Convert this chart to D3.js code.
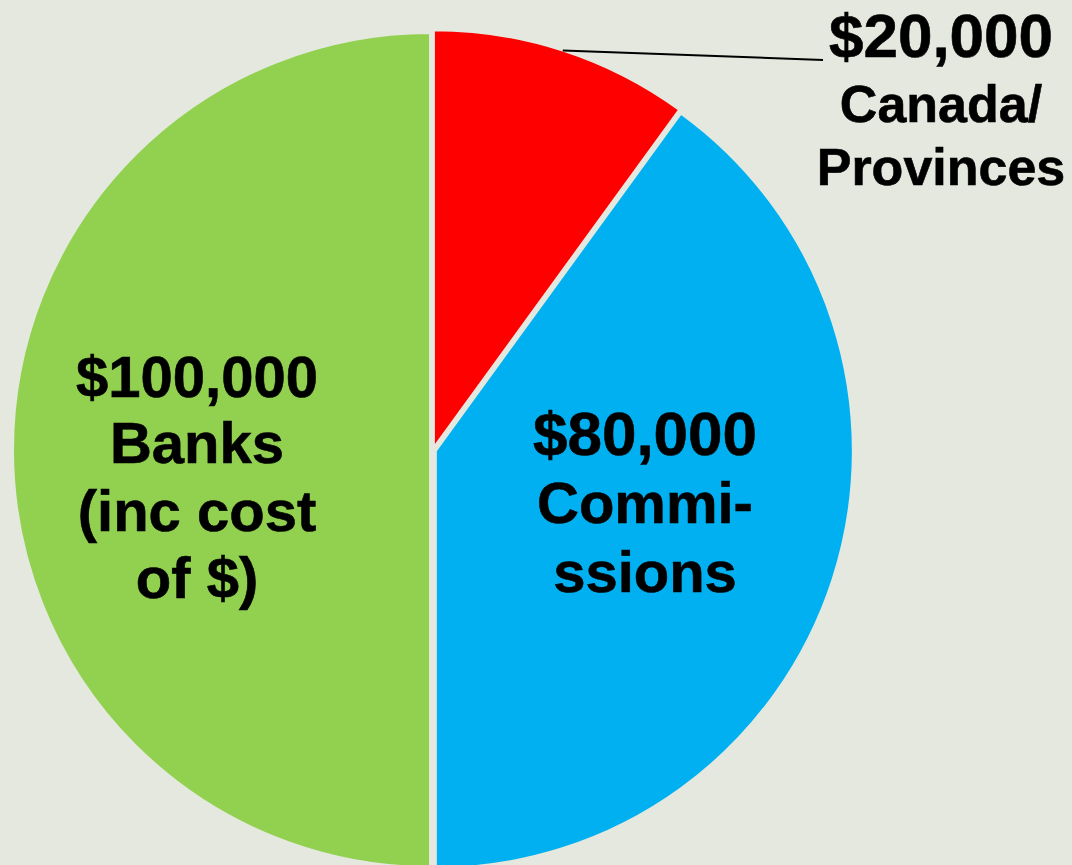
<!DOCTYPE html>
<html>
<head>
<meta charset="utf-8">
<script src="https://cdn.jsdelivr.net/npm/d3@7"></script>
<style>
  html, body { margin: 0; padding: 0; background: #e4e8de; }
  svg { display: block; }
  text { font-family: "Liberation Sans", Arial, sans-serif; font-weight: bold; fill: #000; stroke: #000; stroke-width: 0.6px; }
</style>
</head>
<body>
<svg id="chart" width="1072" height="865"></svg>
<script>
const categories = ["Canada/ Provinces", "Commissions", "Banks (inc cost of $)"];
const values = [20000, 80000, 100000];
const colors = ["#ff0000", "#00b0f0", "#92d050"];
const amountLabels = ["$20,000", "$80,000", "$100,000"];
const nameLines = [["Canada/", "Provinces"], ["Commi-", "ssions"], ["Banks", "(inc cost", "of $)"]];

const W = 1072, H = 865;
const cx = 433, cy = 450, R = 417, explode = 3;
const bg = "#e4e8de";

const svg = d3.select("#chart");
svg.append("rect").attr("width", W).attr("height", H).attr("fill", bg);

const pie = d3.pie().sort(null).value(d => d)(values);
const arc = d3.arc().innerRadius(0).outerRadius(R);
const edgeArc = d3.arc().innerRadius(R).outerRadius(R);

const g = svg.append("g").attr("transform", `translate(${cx},${cy})`);

g.selectAll("path.slice").data(pie).join("path")
  .attr("class", "slice")
  .attr("transform", d => {
    const a = (d.startAngle + d.endAngle) / 2;
    return `translate(${explode * Math.sin(a)},${-explode * Math.cos(a)})`;
  })
  .attr("d", arc)
  .attr("fill", (d, i) => colors[i])
  .attr("stroke", bg)
  .attr("stroke-width", 2);

// Leader line for the small slice
const p0 = edgeArc.centroid(pie[0]);
const a0 = (pie[0].startAngle + pie[0].endAngle) / 2;
g.append("line")
  .attr("x1", p0[0] + explode * Math.sin(a0)).attr("y1", p0[1] - explode * Math.cos(a0))
  .attr("x2", 823 - cx).attr("y2", 60 - cy)
  .attr("stroke", "#000").attr("stroke-width", 2);

// Label layout (absolute positions of baselines)
const labelSpec = [
  { x: 941, amountY: 57, amountSize: 62, nameSize: 52, nameY: [122, 185] },
  { x: 645, amountY: 455, amountSize: 62, nameSize: 58, nameY: [523, 592] },
  { x: 197, amountY: 397, amountSize: 58, nameSize: 58, nameY: [463, 531, 598] }
];

labelSpec.forEach((s, i) => {
  svg.append("text")
    .attr("x", s.x).attr("y", s.amountY)
    .attr("text-anchor", "middle")
    .attr("font-size", s.amountSize)
    .text(amountLabels[i]);
  nameLines[i].forEach((line, j) => {
    svg.append("text")
      .attr("x", s.x).attr("y", s.nameY[j])
      .attr("text-anchor", "middle")
      .attr("font-size", s.nameSize)
      .text(line);
  });
});
</script>
</body>
</html>
